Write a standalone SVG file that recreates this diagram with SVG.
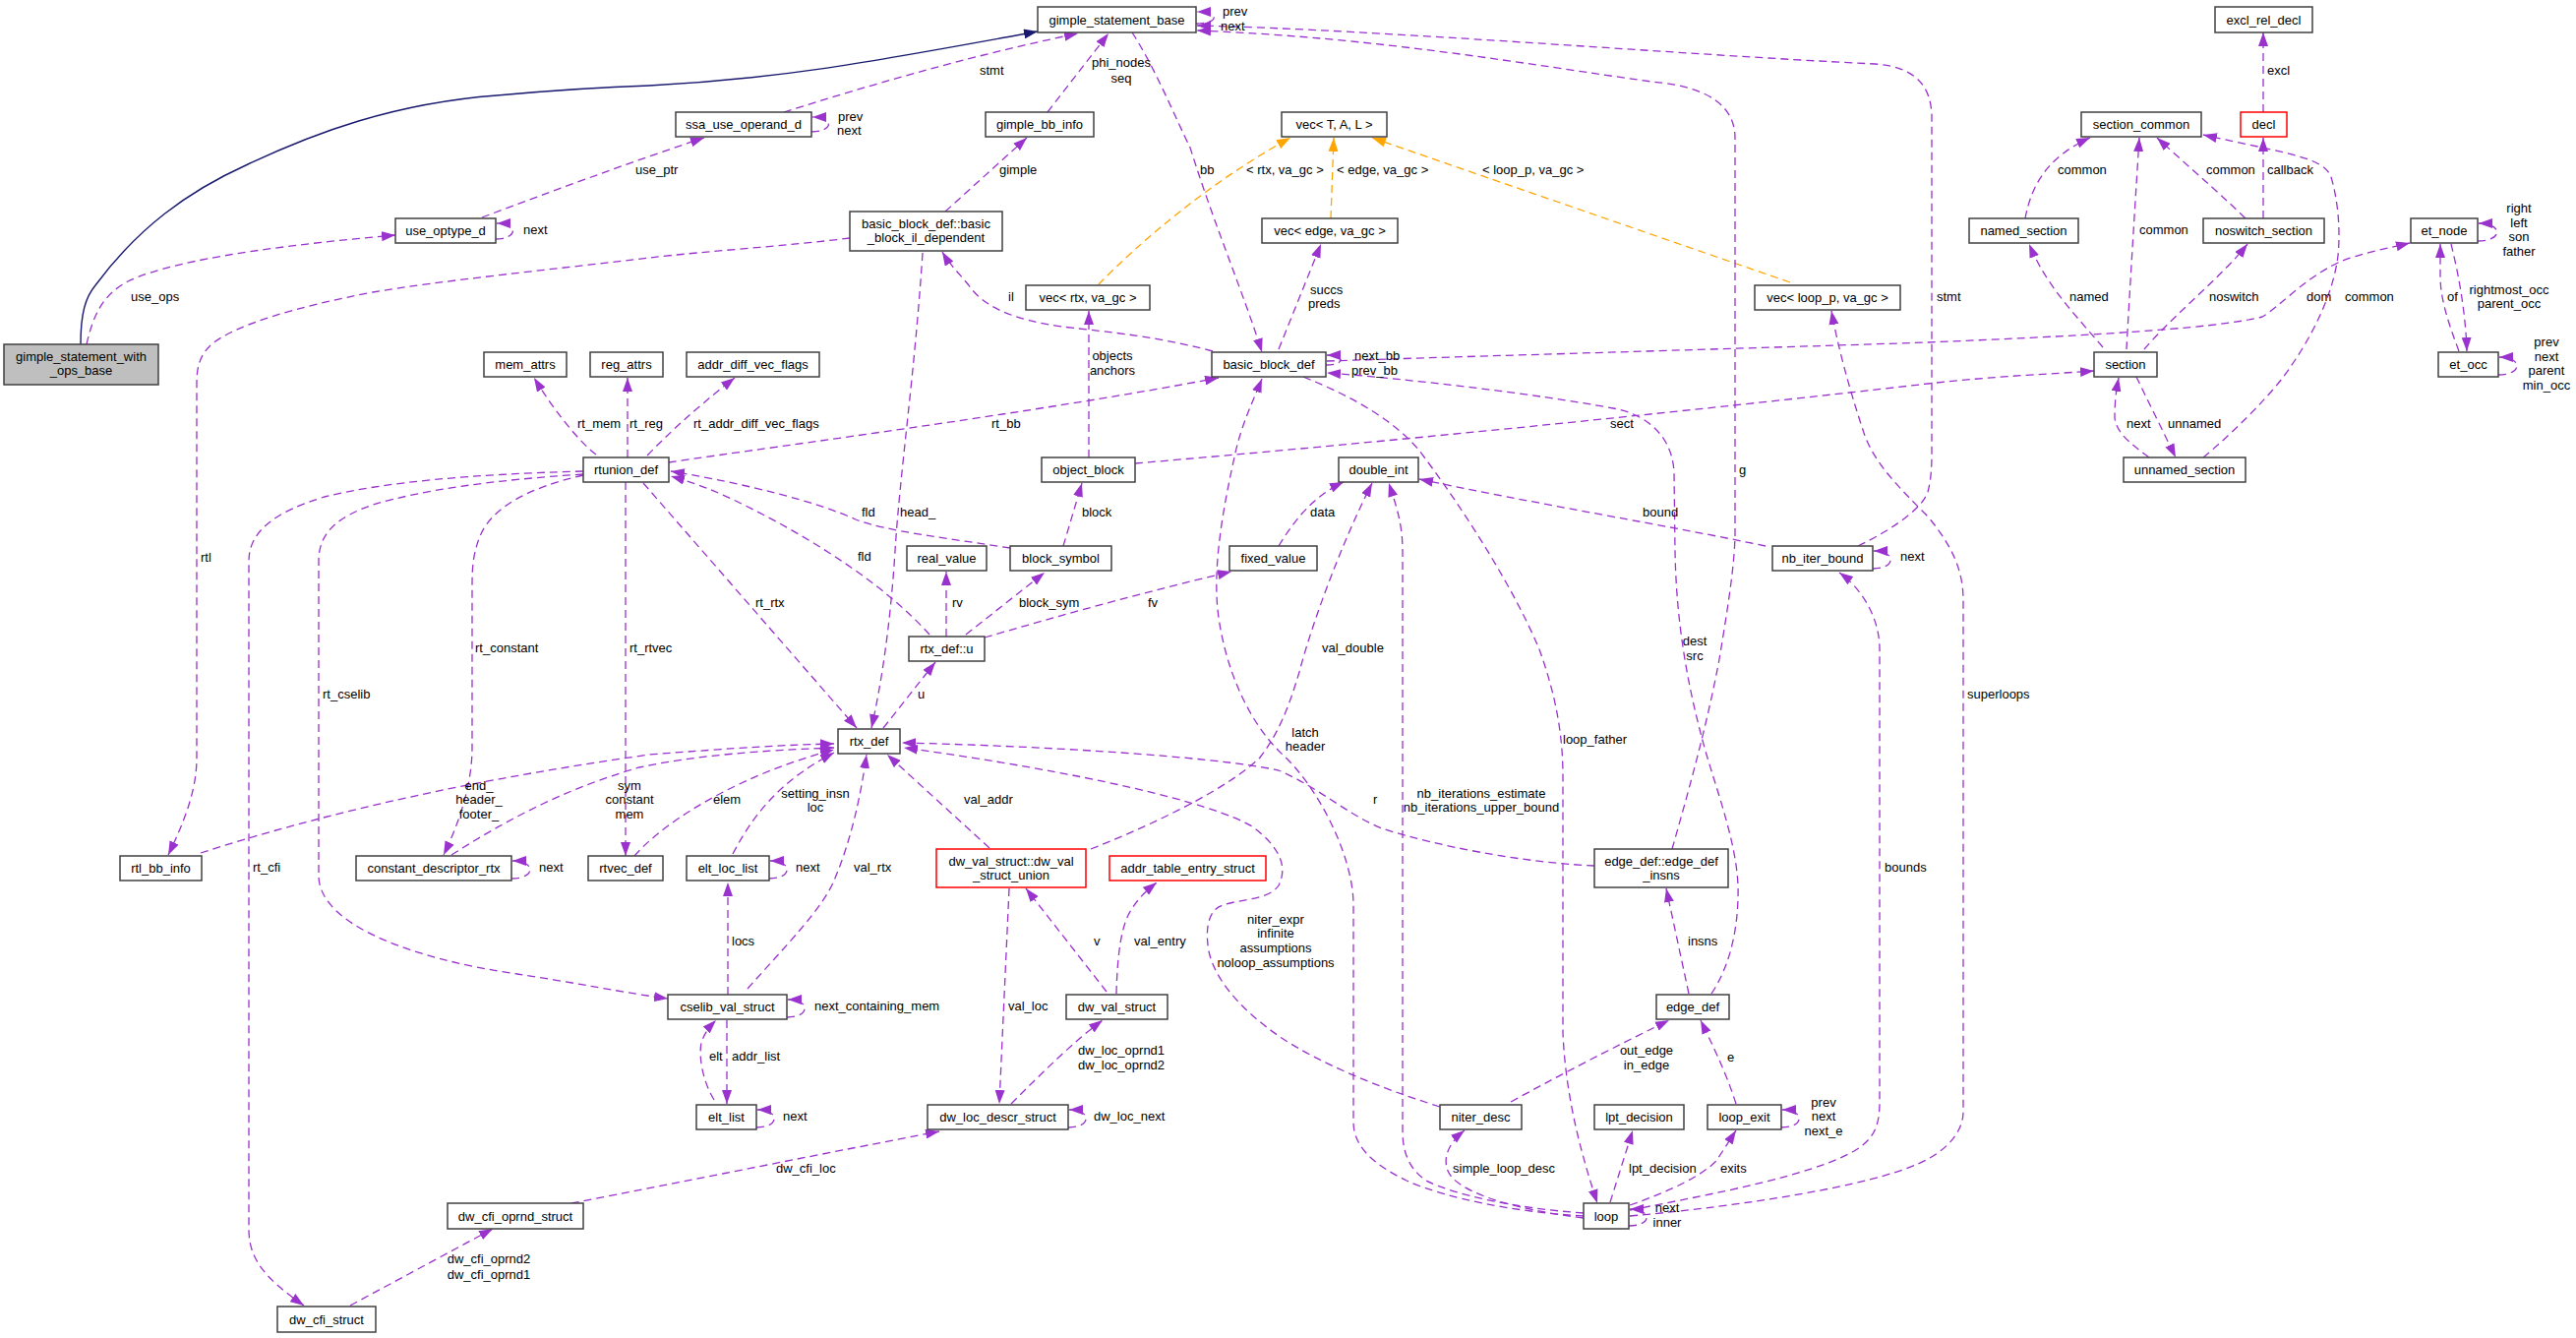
<svg xmlns="http://www.w3.org/2000/svg" width="2619" height="1360" viewBox="0 0 2619 1360">
<style>
text{font-family:"Liberation Sans",Arial,sans-serif;font-size:13px;fill:#000}
.node rect{fill:#fff;stroke:#404040;stroke-width:1.5}
.node text{text-anchor:middle}
.node.root rect{fill:#bfbfbf}
.node.red rect{stroke:#ff0000}
.e{fill:none;stroke:#9a32cd;stroke-width:1.3;stroke-dasharray:8,5;marker-end:url(#ap)}
.o{fill:none;stroke:#ffa500;stroke-width:1.3;stroke-dasharray:8,5;marker-end:url(#ao)}
.n{fill:none;stroke:#191970;stroke-width:1.4;marker-end:url(#an)}
.lbl text.m{text-anchor:middle}
</style>
<defs>
<marker id="ap" markerUnits="userSpaceOnUse" markerWidth="14" markerHeight="10" refX="14" refY="5" orient="auto"><path d="M0,0 L14,5 L0,10 z" fill="#9a32cd"/></marker>
<marker id="ao" markerUnits="userSpaceOnUse" markerWidth="14" markerHeight="10" refX="14" refY="5" orient="auto"><path d="M0,0 L14,5 L0,10 z" fill="#ffa500"/></marker>
<marker id="an" markerUnits="userSpaceOnUse" markerWidth="14" markerHeight="10" refX="14" refY="5" orient="auto"><path d="M0,0 L14,5 L0,10 z" fill="#191970"/></marker>
</defs>
<rect width="2619" height="1360" fill="#fff"/>
<g id="connectors">
<path class="n" d="M82,350 C82,318 87,302 97,290 C140,232 190,195 252,167 C320,135 400,105 505,97 C560,92 600,89 660,87 C800,80 900,60 1055,32"/>
<path class="e" d="M88,350 C95,320 104,300 130,286 C180,262 300,248 402,239"/>
<path class="e" d="M490,221 C560,195 640,165 716,140"/>
<path class="e" d="M797,114 C880,88 980,58 1096,34"/>
<path class="e" d="M1065,114 L1127,34"/>
<path class="e" d="M1151,33 C1175,70 1195,120 1210,150 C1235,230 1265,300 1283,358"/>
<path class="e" d="M961,215 L1044,140"/>
<path class="e" d="M1233,357 C1170,340 1110,336 1080,332 C1030,325 1000,312 985,290 C975,278 965,268 958,256"/>
<path class="e" d="M864,242 C800,250 720,255 660,262 C560,274 450,285 379,297 C300,312 240,330 215,350 C202,362 200,375 200,390 L200,770 C200,800 190,830 171,869"/>
<path class="e" d="M938,257 C930,380 915,480 910,560 C905,640 895,700 886,740"/>
<path class="o" d="M1117,289 C1160,245 1230,185 1312,140"/>
<path class="o" d="M1353,222 L1356,140"/>
<path class="o" d="M1820,287 L1395,140"/>
<path class="e" d="M1300,355 L1343,248"/>
<path class="e" d="M1107,465 L1107,316"/>
<path class="e" d="M680,470 C800,452 1050,420 1239,384"/>
<path class="e" d="M606,462 C590,450 565,420 543,384"/>
<path class="e" d="M638,465 L638,384"/>
<path class="e" d="M658,463 C690,430 720,405 747,384"/>
<path class="e" d="M1154,471 C1400,450 1700,420 1960,390 C2030,382 2090,380 2129,377"/>
<path class="e" d="M654,491 L871,740"/>
<path class="e" d="M945,645 C900,595 830,550 760,515 C730,500 710,492 682,484"/>
<path class="e" d="M1027,557 C970,548 900,540 870,528 C830,510 760,492 682,479"/>
<path class="e" d="M1081,555 L1100,491"/>
<path class="e" d="M962,647 L962,581"/>
<path class="e" d="M982,645 L1062,582"/>
<path class="e" d="M1001,648 C1080,625 1170,600 1252,581"/>
<path class="e" d="M1300,555 C1320,522 1340,502 1366,490"/>
<path class="e" d="M898,740 L951,673"/>
<path class="e" d="M636,490 L636,870"/>
<path class="e" d="M593,483 C540,495 500,515 488,545 C480,565 480,580 480,600 L480,760 C480,800 465,840 451,869"/>
<path class="e" d="M593,482 C500,488 430,498 379,513 C345,525 324,540 324,570 L324,890 C324,940 420,975 526,990 C580,998 640,1010 679,1015"/>
<path class="e" d="M593,479 C480,482 390,490 330,505 C280,520 253,540 253,570 L253,1250 C253,1280 270,1300 309,1327"/>
<path class="e" d="M204,867 C350,820 500,790 660,767 C750,760 800,757 848,756"/>
<path class="e" d="M459,869 C520,830 580,800 650,780 C720,765 800,762 848,760"/>
<path class="e" d="M645,870 C680,830 760,785 848,762"/>
<path class="e" d="M745,868 C770,820 800,790 848,765"/>
<path class="e" d="M760,1005 C800,960 835,925 848,895 C865,855 875,810 881,767"/>
<path class="e" d="M740,1011 L740,897"/>
<path class="e" d="M739,1037 L739,1122"/>
<path class="e" d="M726,1118 C715,1100 710,1075 713,1060 C716,1050 722,1043 728,1037"/>
<path class="e" d="M1006,862 L902,767"/>
<path class="e" d="M1109,863 C1180,835 1250,800 1281,770 C1300,745 1310,720 1321,683 C1335,630 1365,550 1395,491"/>
<path class="e" d="M1026,903 L1016,1122"/>
<path class="e" d="M1125,1008 L1043,903"/>
<path class="e" d="M1135,1010 C1136,970 1140,940 1150,925 C1158,912 1166,905 1176,897"/>
<path class="e" d="M1028,1122 C1060,1090 1090,1060 1121,1037"/>
<path class="e" d="M581,1223 C700,1200 850,1170 955,1150"/>
<path class="e" d="M356,1327 L501,1249"/>
<path class="e" d="M1464,1125 C1400,1105 1340,1080 1300,1053 C1260,1025 1235,995 1229,967 C1225,945 1228,925 1243,920 C1260,914 1290,915 1300,900 C1310,880 1300,860 1273,840 C1230,815 1100,785 919,760"/>
<path class="e" d="M1621,880 C1550,877 1460,860 1405,842 C1370,828 1340,800 1300,783 C1230,768 1050,758 917,755"/>
<path class="e" d="M1610,1233 C1540,1228 1480,1215 1450,1200 C1432,1188 1426,1170 1426,1150 L1426,560 C1426,530 1418,510 1412,491"/>
<path class="e" d="M1610,1236 C1540,1232 1470,1218 1430,1200 C1395,1183 1376,1165 1376,1140 L1376,920 C1376,870 1340,800 1304,767 C1270,735 1245,680 1238,620 C1233,570 1245,510 1256,460 C1263,430 1273,410 1283,385"/>
<path class="e" d="M1325,383 C1380,405 1420,430 1443,458 C1490,520 1540,600 1565,660 C1583,710 1589,750 1589,790 L1589,1050 C1592,1120 1610,1180 1624,1223"/>
<path class="e" d="M1740,1010 C1760,980 1768,940 1767,900 C1765,850 1740,790 1729,745 C1712,680 1704,620 1703,560 L1702,480 C1700,440 1670,420 1640,415 C1560,400 1430,385 1349,379"/>
<path class="e" d="M1349,367 C1500,362 1750,355 1960,348 C2100,342 2250,335 2300,322 C2320,310 2340,285 2377,267 C2400,257 2430,252 2450,247"/>
<path class="e" d="M2138,353 C2110,320 2080,290 2063,248"/>
<path class="e" d="M2162,355 C2165,300 2170,220 2175,140"/>
<path class="e" d="M2180,355 C2210,320 2260,280 2285,248"/>
<path class="e" d="M2059,222 C2065,190 2080,160 2125,140"/>
<path class="e" d="M2283,222 C2250,190 2220,165 2193,140"/>
<path class="e" d="M2301,222 L2301,140"/>
<path class="e" d="M2301,114 L2301,33"/>
<path class="e" d="M2240,465 C2270,440 2300,410 2320,385 C2350,345 2372,300 2377,260 C2380,230 2376,200 2370,180 C2362,160 2330,157 2240,137"/>
<path class="e" d="M2172,383 C2185,410 2200,440 2212,465"/>
<path class="e" d="M2185,465 C2165,450 2152,440 2150,425 C2150,405 2152,395 2154,384"/>
<path class="e" d="M2500,357 C2490,330 2481,305 2481,280 L2481,248"/>
<path class="e" d="M2492,248 C2500,280 2507,320 2508,357"/>
<path class="e" d="M1795,555 C1700,535 1550,510 1443,487"/>
<path class="e" d="M1889,555 C1930,535 1955,515 1960,500 C1964,485 1964,470 1964,455 L1964,120 C1964,90 1950,68 1906,65 C1700,55 1400,30 1217,26"/>
<path class="e" d="M1700,863 C1715,810 1735,740 1748,670 C1758,610 1764,570 1764,540 L1764,140 C1764,110 1740,88 1679,83 C1550,65 1400,38 1217,31"/>
<path class="e" d="M1657,1230 C1750,1212 1840,1195 1885,1170 C1905,1158 1911,1145 1911,1120 L1911,660 C1911,630 1895,600 1870,582"/>
<path class="e" d="M1657,1236 C1780,1225 1900,1205 1950,1183 C1980,1170 1996,1150 1996,1130 L1996,610 C1996,580 1985,555 1960,525 C1930,495 1905,470 1895,440 C1880,395 1868,350 1862,316"/>
<path class="e" d="M1610,1238 C1530,1228 1480,1210 1472,1190 C1466,1175 1475,1160 1489,1149"/>
<path class="e" d="M1637,1222 L1660,1149"/>
<path class="e" d="M1657,1225 C1700,1210 1730,1195 1745,1180 L1765,1149"/>
<path class="e" d="M1765,1122 C1755,1090 1740,1060 1729,1037"/>
<path class="e" d="M1717,1010 L1694,903"/>
<path class="e" d="M1536,1120 C1600,1085 1660,1055 1697,1037"/>
<path class="e" d="M504,243 C526,243 528,227 505,227"/>
<path class="e" d="M825,134 C847,134 849,119 826,119"/>
<path class="e" d="M1216,24 C1240,24 1240,12 1217,12"/>
<path class="e" d="M1348,371 C1368,371 1368,361 1349,361"/>
<path class="e" d="M2519,245 C2545,245 2545,227 2520,227"/>
<path class="e" d="M2540,381 C2565,381 2565,363 2541,363"/>
<path class="e" d="M520,893 C545,893 545,875 521,875"/>
<path class="e" d="M782,893 C806,893 806,875 783,875"/>
<path class="e" d="M800,1034 C824,1034 824,1016 801,1016"/>
<path class="e" d="M769,1146 C793,1146 793,1128 770,1128"/>
<path class="e" d="M1086,1146 C1110,1146 1110,1128 1087,1128"/>
<path class="e" d="M1904,578 C1928,578 1928,560 1905,560"/>
<path class="e" d="M1811,1146 C1835,1146 1835,1128 1812,1128"/>
<path class="e" d="M1656,1246 C1680,1246 1680,1229 1657,1229"/>
</g>
<g id="labels" class="lbl">
<text x="133" y="306">use_ops</text>
<text x="532" y="238">next</text>
<text x="646" y="177">use_ptr</text>
<text x="996" y="76">stmt</text>
<text x="852" y="123">prev</text>
<text x="851" y="137">next</text>
<text x="1243" y="16">prev</text>
<text x="1241" y="31">next</text>
<text class="m" x="1140" y="68">phi_nodes</text>
<text class="m" x="1140" y="84">seq</text>
<text x="1016" y="177">gimple</text>
<text x="1220" y="177">bb</text>
<text x="1025" y="306">il</text>
<text x="1267" y="177">&lt; rtx, va_gc &gt;</text>
<text x="1359" y="177">&lt; edge, va_gc &gt;</text>
<text x="1507" y="177">&lt; loop_p, va_gc &gt;</text>
<text x="1332" y="299">succs</text>
<text x="1330" y="313">preds</text>
<text x="1377" y="366">next_bb</text>
<text x="1374" y="381">prev_bb</text>
<text class="m" x="1131" y="366">objects</text>
<text class="m" x="1131" y="381">anchors</text>
<text x="587" y="435">rt_mem</text>
<text x="640" y="435">rt_reg</text>
<text x="705" y="435">rt_addr_diff_vec_flags</text>
<text x="1008" y="435">rt_bb</text>
<text x="1637" y="435">sect</text>
<text x="2305" y="76">excl</text>
<text x="2092" y="177">common</text>
<text x="2243" y="177">common</text>
<text x="2305" y="177">callback</text>
<text x="2175" y="238">common</text>
<text class="m" x="2561" y="216">right</text>
<text class="m" x="2561" y="231">left</text>
<text class="m" x="2561" y="245">son</text>
<text class="m" x="2561" y="260">father</text>
<text x="1969" y="306">stmt</text>
<text x="2104" y="306">named</text>
<text x="2246" y="306">noswitch</text>
<text x="2345" y="306">dom</text>
<text x="2384" y="306">common</text>
<text x="2488" y="306">of</text>
<text class="m" x="2551" y="299">rightmost_occ</text>
<text class="m" x="2551" y="313">parent_occ</text>
<text class="m" x="2589" y="352">prev</text>
<text class="m" x="2589" y="367">next</text>
<text class="m" x="2589" y="381">parent</text>
<text class="m" x="2589" y="396">min_occ</text>
<text x="2162" y="435">next</text>
<text x="2204" y="435">unnamed</text>
<text x="204" y="571">rtl</text>
<text x="483" y="663">rt_constant</text>
<text x="640" y="663">rt_rtvec</text>
<text x="328" y="710">rt_cselib</text>
<text x="257" y="886">rt_cfi</text>
<text x="548" y="886">next</text>
<text class="m" x="487" y="803">end_</text>
<text class="m" x="487" y="817">header_</text>
<text class="m" x="487" y="832">footer_</text>
<text class="m" x="640" y="803">sym</text>
<text class="m" x="640" y="817">constant</text>
<text class="m" x="640" y="832">mem</text>
<text x="876" y="525">fld</text>
<text x="915" y="525">head_</text>
<text x="1100" y="525">block</text>
<text x="872" y="570">fld</text>
<text x="768" y="617">rt_rtx</text>
<text x="968" y="617">rv</text>
<text x="1036" y="617">block_sym</text>
<text x="1167" y="617">fv</text>
<text x="933" y="710">u</text>
<text x="725" y="817">elem</text>
<text class="m" x="829" y="811">setting_insn</text>
<text class="m" x="829" y="825">loc</text>
<text x="980" y="817">val_addr</text>
<text x="809" y="886">next</text>
<text x="868" y="886">val_rtx</text>
<text x="1332" y="525">data</text>
<text x="1670" y="525">bound</text>
<text x="1768" y="482">g</text>
<text x="1932" y="570">next</text>
<text x="1344" y="663">val_double</text>
<text class="m" x="1723" y="656">dest</text>
<text class="m" x="1723" y="671">src</text>
<text class="m" x="1327" y="749">latch</text>
<text class="m" x="1327" y="763">header</text>
<text x="1589" y="756">loop_father</text>
<text x="1396" y="817">r</text>
<text class="m" x="1506" y="811">nb_iterations_estimate</text>
<text class="m" x="1506" y="825">nb_iterations_upper_bound</text>
<text x="1916" y="886">bounds</text>
<text x="2000" y="710">superloops</text>
<text class="m" x="1297" y="939">niter_expr</text>
<text class="m" x="1297" y="953">infinite</text>
<text class="m" x="1297" y="968">assumptions</text>
<text class="m" x="1297" y="983">noloop_assumptions</text>
<text x="744" y="961">locs</text>
<text x="828" y="1027">next_containing_mem</text>
<text x="721" y="1078">elt</text>
<text x="744" y="1078">addr_list</text>
<text x="796" y="1139">next</text>
<text x="1025" y="1027">val_loc</text>
<text x="1112" y="961">v</text>
<text x="1153" y="961">val_entry</text>
<text class="m" x="1140" y="1072">dw_loc_oprnd1</text>
<text class="m" x="1140" y="1087">dw_loc_oprnd2</text>
<text x="1112" y="1139">dw_loc_next</text>
<text x="789" y="1192">dw_cfi_loc</text>
<text class="m" x="497" y="1284">dw_cfi_oprnd2</text>
<text class="m" x="497" y="1300">dw_cfi_oprnd1</text>
<text x="1716" y="961">insns</text>
<text class="m" x="1674" y="1072">out_edge</text>
<text class="m" x="1674" y="1087">in_edge</text>
<text x="1756" y="1079">e</text>
<text class="m" x="1854" y="1125">prev</text>
<text class="m" x="1854" y="1139">next</text>
<text class="m" x="1854" y="1154">next_e</text>
<text x="1477" y="1192">simple_loop_desc</text>
<text x="1656" y="1192">lpt_decision</text>
<text x="1749" y="1192">exits</text>
<text class="m" x="1695" y="1232">next</text>
<text class="m" x="1695" y="1247">inner</text>
</g>
<g id="gimple_statement_with_ops_base" class="node root"><rect x="4" y="350" width="157" height="41"/><text x="82.5" y="367">gimple_statement_with</text><text x="82.5" y="381">_ops_base</text></g>
<g id="gimple_statement_base" class="node"><rect x="1055" y="7" width="161" height="26"/><text x="1135.5" y="24.5">gimple_statement_base</text></g>
<g id="use_optype_d" class="node"><rect x="402" y="222" width="102" height="25"/><text x="453" y="239">use_optype_d</text></g>
<g id="ssa_use_operand_d" class="node"><rect x="687" y="114" width="138" height="25"/><text x="756" y="131">ssa_use_operand_d</text></g>
<g id="gimple_bb_info" class="node"><rect x="1002" y="114" width="110" height="25"/><text x="1057" y="131">gimple_bb_info</text></g>
<g id="basic_block_il_dependent" class="node"><rect x="864" y="215" width="155" height="40"/><text x="941.5" y="231.5">basic_block_def::basic</text><text x="941.5" y="245.5">_block_il_dependent</text></g>
<g id="vec_T_A_L" class="node"><rect x="1303" y="114" width="107" height="25"/><text x="1356.5" y="131">vec&lt; T, A, L &gt;</text></g>
<g id="vec_rtx" class="node"><rect x="1043" y="290" width="126" height="25"/><text x="1106" y="307">vec&lt; rtx, va_gc &gt;</text></g>
<g id="vec_edge" class="node"><rect x="1283" y="222" width="138" height="25"/><text x="1352" y="239">vec&lt; edge, va_gc &gt;</text></g>
<g id="vec_loop_p" class="node"><rect x="1784" y="290" width="148" height="25"/><text x="1858" y="307">vec&lt; loop_p, va_gc &gt;</text></g>
<g id="excl_rel_decl" class="node"><rect x="2252" y="7" width="99" height="26"/><text x="2301.5" y="24.5">excl_rel_decl</text></g>
<g id="section_common" class="node"><rect x="2116" y="114" width="122" height="25"/><text x="2177" y="131">section_common</text></g>
<g id="decl" class="node red"><rect x="2278" y="114" width="47" height="25"/><text x="2301.5" y="131">decl</text></g>
<g id="named_section" class="node"><rect x="2002" y="222" width="111" height="25"/><text x="2057.5" y="239">named_section</text></g>
<g id="noswitch_section" class="node"><rect x="2240" y="222" width="123" height="25"/><text x="2301.5" y="239">noswitch_section</text></g>
<g id="et_node" class="node"><rect x="2451" y="222" width="68" height="25"/><text x="2485" y="239">et_node</text></g>
<g id="section" class="node"><rect x="2129" y="358" width="64" height="25"/><text x="2161" y="375">section</text></g>
<g id="et_occ" class="node"><rect x="2479" y="358" width="61" height="25"/><text x="2509.5" y="375">et_occ</text></g>
<g id="unnamed_section" class="node"><rect x="2159" y="465" width="124" height="25"/><text x="2221" y="482">unnamed_section</text></g>
<g id="basic_block_def" class="node"><rect x="1232" y="358" width="116" height="25"/><text x="1290" y="375">basic_block_def</text></g>
<g id="mem_attrs" class="node"><rect x="492" y="358" width="84" height="25"/><text x="534" y="375">mem_attrs</text></g>
<g id="reg_attrs" class="node"><rect x="600" y="358" width="74" height="25"/><text x="637" y="375">reg_attrs</text></g>
<g id="addr_diff_vec_flags" class="node"><rect x="698" y="358" width="135" height="25"/><text x="765.5" y="375">addr_diff_vec_flags</text></g>
<g id="rtunion_def" class="node"><rect x="593" y="465" width="87" height="25"/><text x="636.5" y="482">rtunion_def</text></g>
<g id="object_block" class="node"><rect x="1059" y="465" width="95" height="25"/><text x="1106.5" y="482">object_block</text></g>
<g id="double_int" class="node"><rect x="1361" y="465" width="81" height="25"/><text x="1401.5" y="482">double_int</text></g>
<g id="real_value" class="node"><rect x="922" y="555" width="81" height="25"/><text x="962.5" y="572">real_value</text></g>
<g id="block_symbol" class="node"><rect x="1027" y="555" width="103" height="25"/><text x="1078.5" y="572">block_symbol</text></g>
<g id="fixed_value" class="node"><rect x="1250" y="555" width="89" height="25"/><text x="1294.5" y="572">fixed_value</text></g>
<g id="nb_iter_bound" class="node"><rect x="1802" y="555" width="102" height="25"/><text x="1853" y="572">nb_iter_bound</text></g>
<g id="rtx_def_u" class="node"><rect x="924" y="647" width="77" height="25"/><text x="962.5" y="664">rtx_def::u</text></g>
<g id="rtx_def" class="node"><rect x="852" y="741" width="63" height="25"/><text x="883.5" y="758">rtx_def</text></g>
<g id="rtl_bb_info" class="node"><rect x="122" y="870" width="83" height="25"/><text x="163.5" y="887">rtl_bb_info</text></g>
<g id="constant_descriptor_rtx" class="node"><rect x="362" y="870" width="158" height="25"/><text x="441" y="887">constant_descriptor_rtx</text></g>
<g id="rtvec_def" class="node"><rect x="598" y="870" width="76" height="25"/><text x="636" y="887">rtvec_def</text></g>
<g id="elt_loc_list" class="node"><rect x="698" y="870" width="84" height="25"/><text x="740" y="887">elt_loc_list</text></g>
<g id="dw_val_struct_union" class="node red"><rect x="952" y="863" width="152" height="39"/><text x="1028" y="879.5">dw_val_struct::dw_val</text><text x="1028" y="893.5">_struct_union</text></g>
<g id="addr_table_entry_struct" class="node red"><rect x="1128" y="870" width="159" height="25"/><text x="1207.5" y="887">addr_table_entry_struct</text></g>
<g id="edge_def_insns" class="node"><rect x="1621" y="863" width="136" height="39"/><text x="1689" y="879.5">edge_def::edge_def</text><text x="1689" y="893.5">_insns</text></g>
<g id="cselib_val_struct" class="node"><rect x="679" y="1011" width="121" height="25"/><text x="739.5" y="1028">cselib_val_struct</text></g>
<g id="dw_val_struct" class="node"><rect x="1084" y="1011" width="103" height="25"/><text x="1135.5" y="1028">dw_val_struct</text></g>
<g id="edge_def" class="node"><rect x="1684" y="1011" width="74" height="25"/><text x="1721" y="1028">edge_def</text></g>
<g id="elt_list" class="node"><rect x="708" y="1123" width="61" height="25"/><text x="738.5" y="1140">elt_list</text></g>
<g id="dw_loc_descr_struct" class="node"><rect x="943" y="1123" width="143" height="25"/><text x="1014.5" y="1140">dw_loc_descr_struct</text></g>
<g id="niter_desc" class="node"><rect x="1464" y="1123" width="83" height="25"/><text x="1505.5" y="1140">niter_desc</text></g>
<g id="lpt_decision" class="node"><rect x="1621" y="1123" width="91" height="25"/><text x="1666.5" y="1140">lpt_decision</text></g>
<g id="loop_exit" class="node"><rect x="1736" y="1123" width="75" height="25"/><text x="1773.5" y="1140">loop_exit</text></g>
<g id="dw_cfi_oprnd_struct" class="node"><rect x="455" y="1223" width="138" height="26"/><text x="524" y="1240.5">dw_cfi_oprnd_struct</text></g>
<g id="loop" class="node"><rect x="1610" y="1223" width="46" height="26"/><text x="1633" y="1240.5">loop</text></g>
<g id="dw_cfi_struct" class="node"><rect x="282" y="1328" width="100" height="26"/><text x="332" y="1345.5">dw_cfi_struct</text></g>
</svg>
